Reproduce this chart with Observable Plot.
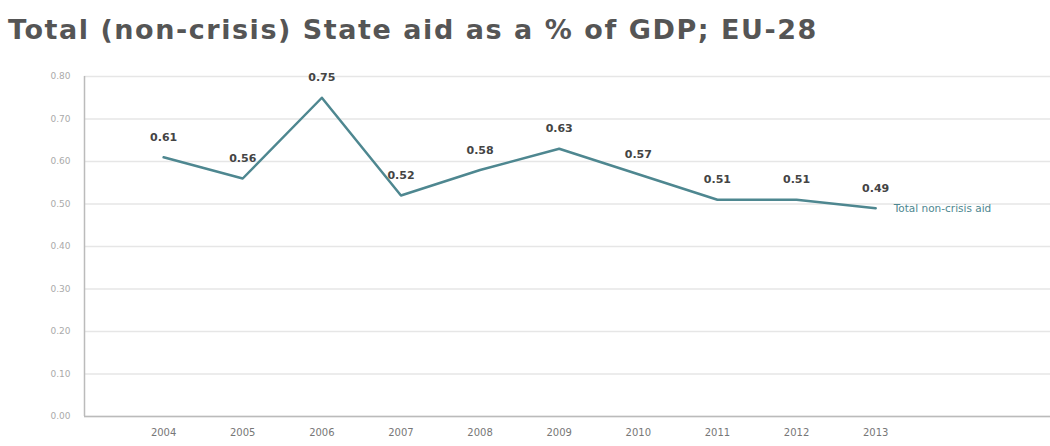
<!DOCTYPE html>
<html>
<head>
<meta charset="utf-8">
<script src="https://cdn.jsdelivr.net/npm/d3@7"></script>
<script src="https://cdn.jsdelivr.net/npm/@observablehq/plot@0.6"></script>
<style>
  body { margin: 0; background: #fff; }
  #title { font-family: "DejaVu Sans", sans-serif; font-weight: bold; font-size: 27px; letter-spacing: 1.55px; color: #555; margin: 0; padding: 15px 0 0 8px; height: 41px; line-height: 30px; white-space: nowrap; }
</style>
</head>
<body>
<div id="title">Total (non-crisis) State aid as a % of GDP; EU-28</div>
<div id="chart"></div>
<script>
const years = [2004, 2005, 2006, 2007, 2008, 2009, 2010, 2011, 2012, 2013];
const values = [0.61, 0.56, 0.75, 0.52, 0.58, 0.63, 0.57, 0.51, 0.51, 0.49];
const seriesName = "Total non-crisis aid";
const yTicks = [0, 0.1, 0.2, 0.3, 0.4, 0.5, 0.6, 0.7, 0.8];

const data = years.map((y, i) => ({year: y, value: values[i]}));
const last = data[data.length - 1];

const chart = Plot.plot({
  width: 1050,
  height: 390,
  marginLeft: 84,
  marginRight: 0,
  marginTop: 20,
  marginBottom: 30,
  style: {fontFamily: "DejaVu Sans, sans-serif", background: "#fff"},
  x: {type: "linear", domain: [2003, 2015.21]},
  y: {domain: [0, 0.8]},
  marks: [
    Plot.gridY(yTicks, {stroke: "#e6e6e6", strokeOpacity: 1, strokeWidth: 1.5}),
    Plot.axisY(yTicks, {tickSize: 0, tickPadding: 14, tickFormat: d3.format(".2f"), fill: "#aaa", fontSize: 9, label: null}),
    Plot.axisX(years, {tickSize: 0, tickPadding: 12, tickFormat: d => String(d), fill: "#777", fontSize: 10, label: null}),
    Plot.ruleY([0], {stroke: "#bbb", strokeWidth: 1.5}),
    Plot.ruleX([2003], {stroke: "#bbb", strokeWidth: 1.5}),
    Plot.line(data, {x: "year", y: "value", stroke: "#4e8790", strokeWidth: 2.5}),
    Plot.text(data, {x: "year", y: "value", text: d => d3.format(".2f")(d.value), dy: -20, fill: "#444", fontSize: 11, fontWeight: "bold"}),
    Plot.text([last], {x: "year", y: "value", text: () => seriesName, dx: 18, textAnchor: "start", fill: "#4e8790", fontSize: 10.5})
  ]
});
document.getElementById("chart").appendChild(chart);
</script>
</body>
</html>
